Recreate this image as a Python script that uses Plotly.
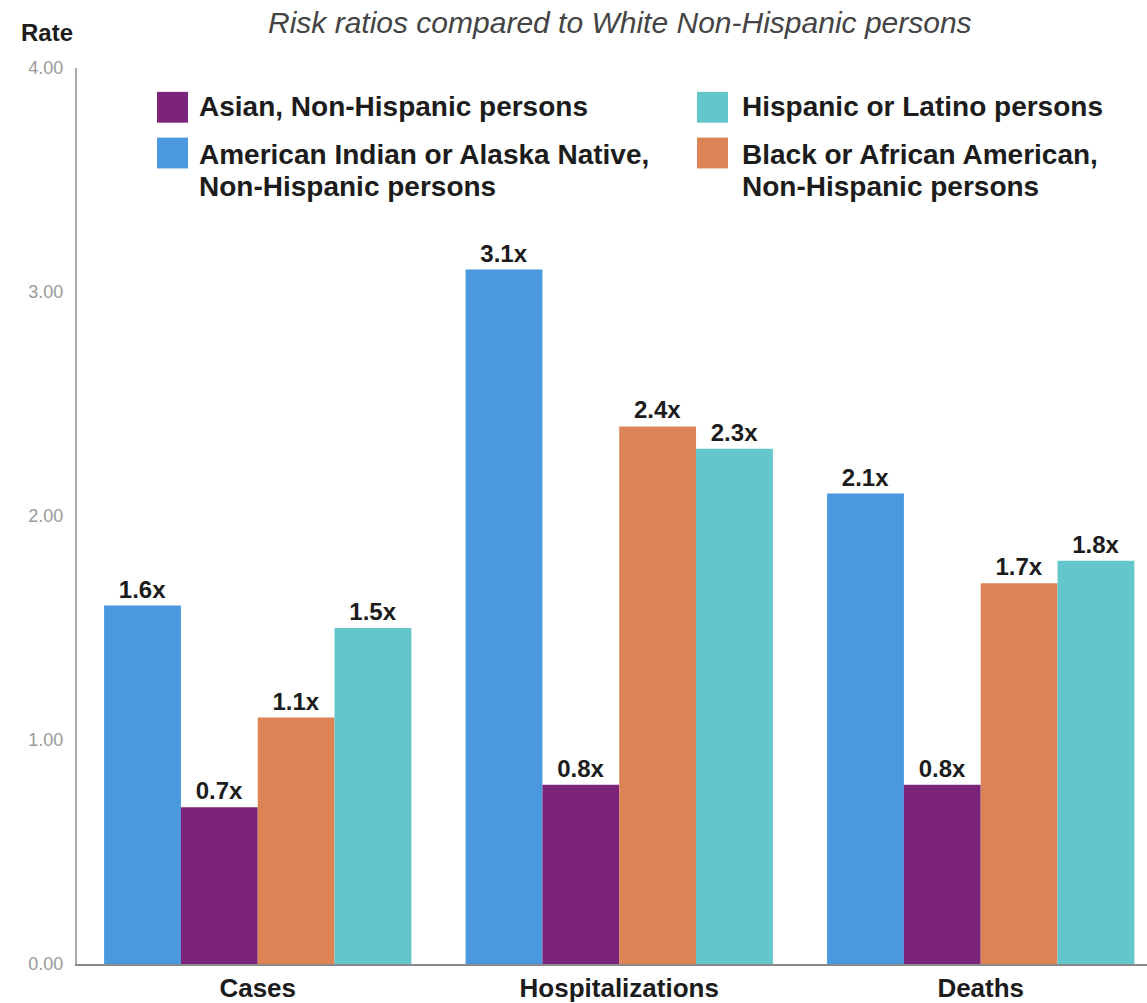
import plotly.graph_objects as go

categories = ["Cases", "Hospitalizations", "Deaths"]
series_names = [
    "American Indian or Alaska Native,\nNon-Hispanic persons",
    "Asian, Non-Hispanic persons",
    "Black or African American,\nNon-Hispanic persons",
    "Hispanic or Latino persons",
]
aian_values = [1.6, 3.1, 2.1]
asian_values = [0.7, 0.8, 0.8]
black_values = [1.1, 2.4, 1.7]
hispanic_values = [1.5, 2.3, 1.8]
series_values = [aian_values, asian_values, black_values, hispanic_values]
series_colors = ["#4A99DE", "#7C2479", "#DC8455", "#63C6CB"]
y_ticks = [0, 1, 2, 3, 4]
y_tick_labels = ["0.00", "1.00", "2.00", "3.00", "4.00"]
title_text = "Risk ratios compared to White Non-Hispanic persons"
y_label = "Rate"

W, H = 1147, 1003
L, R, T, B = 77, 0, 68, 34
PW, PH = W - L - R, H - T - B
FONT = "Liberation Sans, Arial, sans-serif"
DARK = "#1c1c1c"


def px(x):
    return (x - L) / PW


def py(y):
    return (H - B - y) / PH


fig = go.Figure()
for name, vals, col in zip(series_names, series_values, series_colors):
    fig.add_trace(go.Bar(
        x=categories, y=vals, name=name.replace("\n", " "),
        marker=dict(color=col, line=dict(width=0)),
        texttemplate="%{y:.1f}x", textposition="outside",
        textfont=dict(family=FONT, size=24, color=DARK, weight="bold"),
        cliponaxis=False, showlegend=False,
    ))

# custom legend (two columns), order as in reference
legend_layout = [
    (1, 157, 92, 197, [107]),
    (0, 157, 138, 197, [155, 187]),
    (3, 697, 92, 740, [107]),
    (2, 697, 138, 740, [155, 187]),
]
shapes = []
annotations = []
for idx, sx, sy, tx, line_ys in legend_layout:
    shapes.append(dict(type="rect", xref="paper", yref="paper",
                       x0=px(sx), x1=px(sx + 31), y0=py(sy + 31), y1=py(sy),
                       fillcolor=series_colors[idx], line=dict(width=0)))
    for line_text, ly in zip(series_names[idx].split("\n"), line_ys):
        annotations.append(dict(xref="paper", yref="paper", x=px(tx), y=py(ly),
                                text=line_text, showarrow=False, xanchor="left",
                                yanchor="middle",
                                font=dict(family=FONT, size=28, color=DARK, weight="bold")))

annotations.append(dict(xref="paper", yref="paper", x=px(620), y=py(22), text=title_text,
                        showarrow=False, xanchor="center", yanchor="middle",
                        font=dict(family=FONT, size=30, color="#444444", style="italic")))
annotations.append(dict(xref="paper", yref="paper", x=px(47), y=py(32), text=y_label,
                        showarrow=False, xanchor="center", yanchor="middle",
                        font=dict(family=FONT, size=24, color=DARK, weight="bold")))

fig.update_layout(
    width=W, height=H,
    margin=dict(l=L, r=R, t=T, b=B, pad=0),
    paper_bgcolor="white", plot_bgcolor="white",
    barmode="group", bargap=0.15, bargroupgap=0,
    shapes=shapes, annotations=annotations,
    xaxis=dict(range=[-0.5, 2.46], showgrid=False, showline=True, linecolor="#8a8a8a",
               linewidth=2, ticks="", zeroline=False,
               tickfont=dict(family=FONT, size=26, color=DARK, weight="bold")),
    yaxis=dict(range=[0, 4], tickvals=y_ticks, ticktext=y_tick_labels, showgrid=False,
               showline=True, linecolor="#aaaaaa", linewidth=2, ticks="", zeroline=False,
               ticklabelstandoff=8,
               tickfont=dict(family=FONT, size=18, color="#9a9a9a")),
)

fig.write_html("out.html")
